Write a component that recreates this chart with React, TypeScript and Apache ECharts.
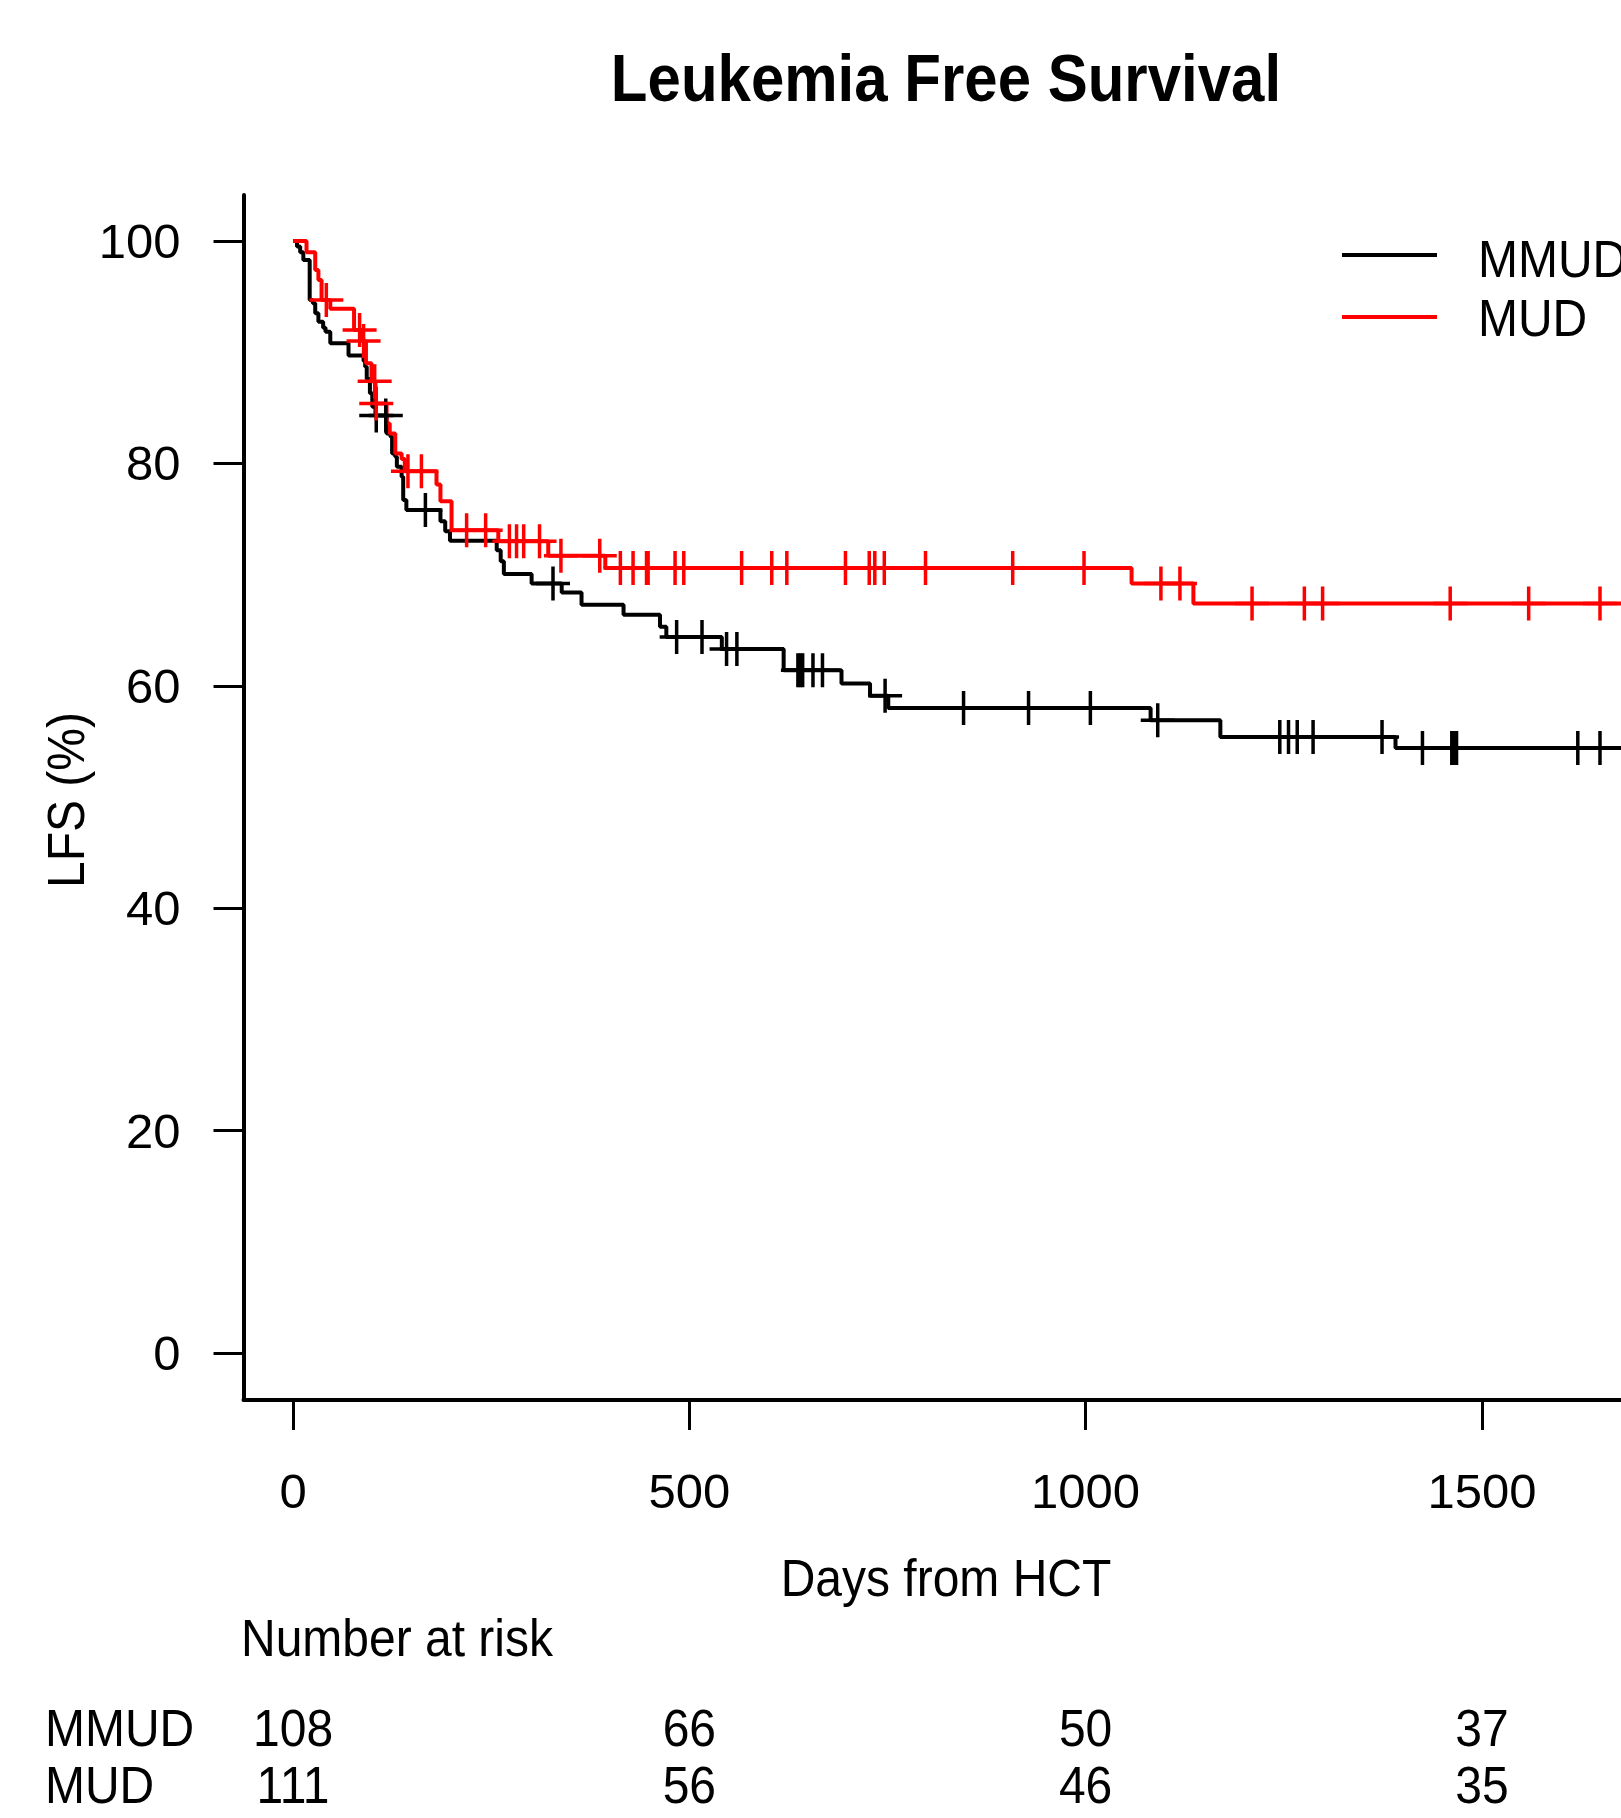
import React, { useEffect, useRef } from "react";
import * as echarts from "echarts";

// ---- Data ----
const X_TICKS = [0, 500, 1000, 1500];
const Y_TICKS = [0, 20, 40, 60, 80, 100];

// Kaplan–Meier steps: [day, LFS % after the event]
const MMUD_STEPS: [number, number][] = [
  [0, 100], [5, 99.5], [9, 99.0], [13, 98.3], [21, 94.7], [25, 94.4], [28, 93.5],
  [32, 92.75], [38, 92.2], [41, 91.85], [47, 90.8], [70, 89.7], [89, 89.2], [91, 88.7],
  [93, 87.6], [97, 86.3], [100, 85.1], [104, 84.3], [118, 82.7], [123, 82.4], [125, 80.9],
  [129, 80.6], [131, 79.7], [137, 78.8], [139, 76.7], [143, 75.8], [186, 74.8], [192, 73.9],
  [198, 73.05], [257, 72.2], [262, 71.2], [266, 70.05], [301, 69.2], [339, 68.4], [364, 67.3],
  [417, 66.4], [463, 65.3], [471, 64.4], [541, 63.3], [619, 61.4], [692, 60.2], [728, 59.1],
  [751, 58.0], [1082, 56.9], [1170, 55.4], [1391, 54.4], [1680, 54.4],
];
const MMUD_CENSOR: number[] = [
  105, 117, 167, 328, 484, 516, 547, 560, 637, 640, 643, 656, 668, 747, 846, 928, 1006,
  1091, 1245, 1256, 1267, 1287, 1374, 1425, 1462, 1465, 1468, 1621, 1649,
];

const MUD_STEPS: [number, number][] = [
  [0, 100], [17, 99.0], [28, 97.4], [32, 96.5], [36, 94.7], [47, 93.9], [77, 92.0],
  [88, 91.0], [92, 89.0], [99, 87.4], [104, 85.4], [118, 83.6], [122, 82.7], [129, 80.9],
  [137, 80.4], [141, 79.3], [181, 78.1], [186, 76.6], [200, 74.0], [259, 73.0], [322, 71.7],
  [394, 70.6], [1058, 69.2], [1136, 67.4], [1680, 67.4],
];
const MUD_CENSOR: number[] = [
  42, 84, 89, 103, 105, 145, 162, 219, 243, 273, 282, 291, 311, 338, 387, 413, 429, 446,
  448, 482, 493, 566, 604, 623, 697, 727, 734, 746, 798, 908, 998, 1095, 1119, 1210, 1276,
  1299, 1460, 1559, 1649,
];

const RISK_DAYS = [0, 500, 1000, 1500];
const RISK_MMUD = [108, 66, 50, 37];
const RISK_MUD = [111, 56, 46, 35];

const SERIES_NAMES = ["MMUD", "MUD"];
const COLORS = ["#000000", "#ff0000"];

const FONT = "'Liberation Sans', Arial, Helvetica, sans-serif";
const PLUS =
  "path://M-1.75,-17H1.75V-1.75H17V1.75H1.75V17H-1.75V1.75H-17V-1.75H-1.75Z";

function survAt(steps: [number, number][], t: number): number {
  let v = steps[0][1];
  for (const [d, p] of steps) {
    if (d <= t) v = p;
    else break;
  }
  return v;
}

export default function App() {
  const ref = useRef<HTMLDivElement>(null);

  useEffect(() => {
    if (!ref.current) return;
    const chart = echarts.init(ref.current, undefined, { renderer: "svg" });

    const lineSeries = (name: string, steps: [number, number][], color: string) => ({
      name,
      type: "line",
      step: "end",
      data: steps,
      showSymbol: false,
      symbol: "none",
      clip: true,
      lineStyle: { color, width: 4 },
      silent: true,
      z: 2,
    });
    const censorSeries = (
      name: string,
      steps: [number, number][],
      censor: number[],
      color: string
    ) => ({
      name: name + " censored",
      type: "scatter",
      data: censor.map((d) => [d, survAt(steps, d)]),
      symbol: PLUS,
      symbolSize: 34,
      clip: true,
      itemStyle: { color, opacity: 1 },
      silent: true,
      z: 3,
    });

    chart.setOption({
      animation: false,
      backgroundColor: "#ffffff",
      grid: { left: 243.5, top: 195, width: 1377.5, height: 1205, containLabel: false },
      xAxis: {
        type: "value",
        min: -62.5,
        max: 1675.5,
        axisLine: { show: true, onZero: false, lineStyle: { color: "#000", width: 4 } },
        axisTick: {
          show: true,
          length: 30,
          customValues: X_TICKS,
          lineStyle: { color: "#000", width: 3 },
        },
        axisLabel: {
          customValues: X_TICKS,
          formatter: (v: number) => String(v),
          margin: 66,
          fontSize: 49,
          fontFamily: FONT,
          color: "#000",
        },
        splitLine: { show: false },
      },
      yAxis: {
        type: "value",
        min: -4.23,
        max: 104.14,
        axisLine: { show: true, onZero: false, lineStyle: { color: "#000", width: 4 } },
        axisTick: {
          show: true,
          length: 30,
          customValues: Y_TICKS,
          lineStyle: { color: "#000", width: 3 },
        },
        axisLabel: {
          customValues: Y_TICKS,
          formatter: (v: number) => String(v),
          margin: 63,
          fontSize: 49,
          fontFamily: FONT,
          color: "#000",
        },
        splitLine: { show: false },
      },
      series: [
        lineSeries(SERIES_NAMES[0], MMUD_STEPS, COLORS[0]),
        censorSeries(SERIES_NAMES[0], MMUD_STEPS, MMUD_CENSOR, COLORS[0]),
        lineSeries(SERIES_NAMES[1], MUD_STEPS, COLORS[1]),
        censorSeries(SERIES_NAMES[1], MUD_STEPS, MUD_CENSOR, COLORS[1]),
      ],
    });

    const txt = (
      text: string,
      x: number,
      y: number,
      align: string,
      opts: any = {}
    ) => ({
      type: "text",
      x,
      y,
      scaleY: opts.scaleY ?? 1.08,
      rotation: opts.rotation ?? 0,
      silent: true,
      style: {
        text,
        fontSize: opts.fontSize ?? 48,
        fontWeight: opts.fontWeight ?? "normal",
        fontFamily: FONT,
        fill: "#000",
        align,
        verticalAlign: "middle",
      },
    });

    const graphics: any[] = [];
    graphics.push(txt("Leukemia Free Survival", 946, 78, "center", { fontSize: 60, fontWeight: "bold", scaleY: 1.1 }));
    graphics.push(txt("Days from HCT", 946, 1578, "center"));
    graphics.push(txt("LFS (%)", 66, 800, "center", { rotation: Math.PI / 2 }));
    graphics.push(txt("Number at risk", 241, 1638, "left"));
    graphics.push(txt(SERIES_NAMES[0], 45, 1728, "left"));
    graphics.push(txt(SERIES_NAMES[1], 45, 1785, "left"));
    RISK_DAYS.forEach((d, i) => {
      const px = chart.convertToPixel({ xAxisIndex: 0 }, d) as number;
      graphics.push(txt(String(RISK_MMUD[i]), px, 1728, "center"));
      graphics.push(txt(String(RISK_MUD[i]), px, 1785, "center"));
    });
    // legend
    const legendY = [255, 317];
    const legendTextY = [259, 318];
    SERIES_NAMES.forEach((n, i) => {
      graphics.push({
        type: "line",
        silent: true,
        shape: { x1: 1342, y1: legendY[i], x2: 1437, y2: legendY[i] },
        style: { stroke: COLORS[i], lineWidth: 4 },
      });
      graphics.push(txt(n, 1478, legendTextY[i], "left"));
    });

    chart.setOption({ graphic: graphics });

    return () => chart.dispose();
  }, []);

  return (
    <div
      ref={ref}
      style={{ position: "absolute", left: 0, top: 0, width: 1621, height: 1818, background: "#fff" }}
    />
  );
}
